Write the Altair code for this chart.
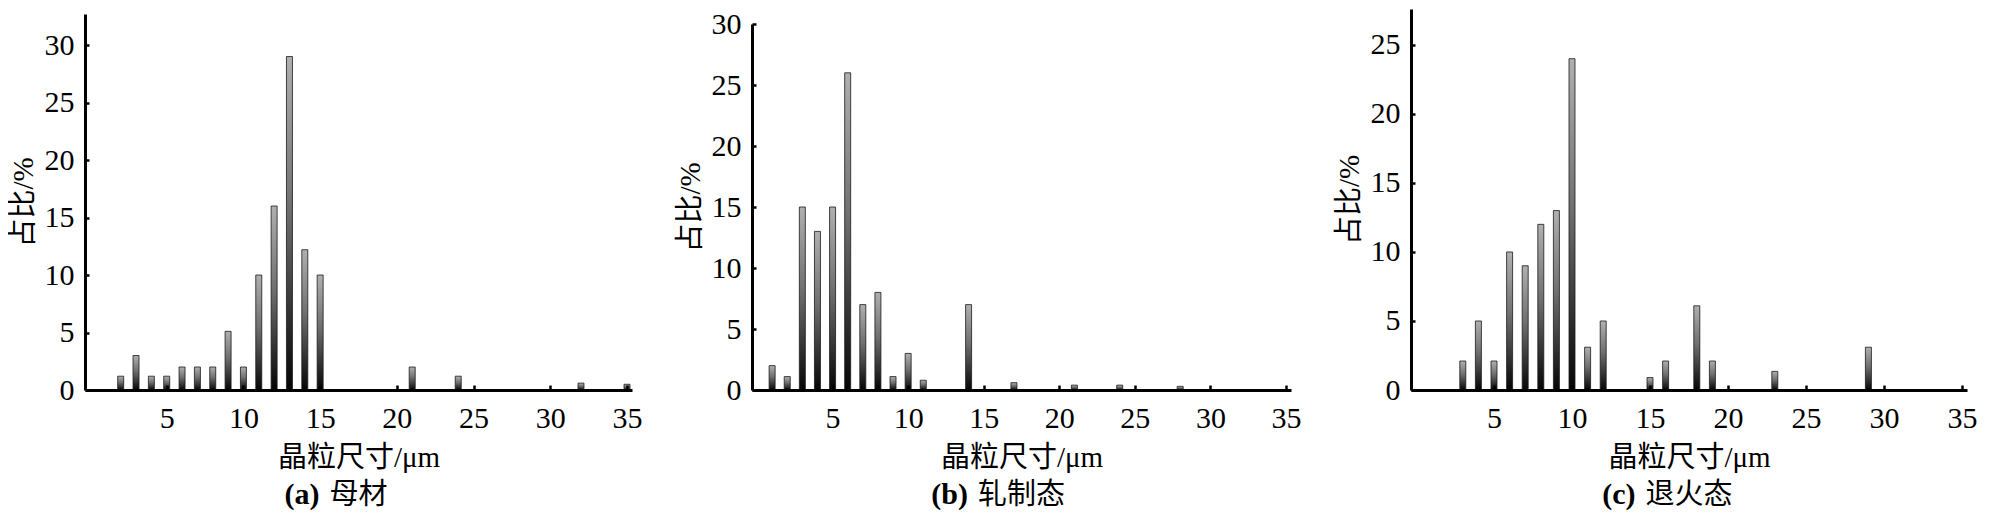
import altair as alt
import pandas as pd

# ---------------- data ----------------
sizes_a = [2, 3, 4, 5, 6, 7, 8, 9, 10, 11, 12, 13, 14, 15, 21, 24, 32, 35]
vals_a = [1.2, 3.0, 1.2, 1.2, 2.0, 2.0, 2.0, 5.1, 2.0, 10.0, 16.0, 29.0, 12.2, 10.0, 2.0, 1.2, 0.6, 0.5]

sizes_b = [1, 2, 3, 4, 5, 6, 7, 8, 9, 10, 11, 14, 17, 21, 24, 28]
vals_b = [2.0, 1.1, 15.0, 13.0, 15.0, 26.0, 7.0, 8.0, 1.1, 3.0, 0.8, 7.0, 0.6, 0.4, 0.4, 0.3]

sizes_c = [3, 4, 5, 6, 7, 8, 9, 10, 11, 12, 15, 16, 18, 19, 23, 29]
vals_c = [2.1, 5.0, 2.1, 10.0, 9.0, 12.0, 13.0, 24.0, 3.1, 5.0, 0.9, 2.1, 6.1, 2.1, 1.35, 3.1]

x_ticks = [5, 10, 15, 20, 25, 30, 35]
y_ticks_a = [0, 5, 10, 15, 20, 25, 30]
y_ticks_b = [0, 5, 10, 15, 20, 25, 30]
y_ticks_c = [0, 5, 10, 15, 20, 25]

tags = ["(a)", "(b)", "(c)"]
names = ["母材", "轧制态", "退火态"]
x_title = "晶粒尺寸/μm"
y_title = "占比/%"

# ---------------- styling ----------------
H = 381
SERIF = "Liberation Serif"
MIXED = "Liberation Serif, Noto Sans CJK SC"
CJK = "Noto Sans CJK SC"
LFS = 30   # tick label font size
TFS = 29   # axis title font size

panels = [
    dict(sizes=sizes_a, vals=vals_a, ymax=32.7, ytop=5, yticks=y_ticks_a, width=547),
    dict(sizes=sizes_b, vals=vals_b, ymax=30.0, ytop=15, yticks=y_ticks_b, width=539),
    dict(sizes=sizes_c, vals=vals_c, ymax=27.6, ytop=0, yticks=y_ticks_c, width=556),
]

grad = alt.Gradient(
    gradient="linear",
    stops=[
        alt.GradientStop(color="#b0b0b0", offset=0),
        alt.GradientStop(color="#707070", offset=0.45),
        alt.GradientStop(color="#050505", offset=1),
    ],
    x1=0, x2=0, y1=0, y2=1,
)


def make_panel(p, tag, name):
    df = pd.DataFrame({"grain": p["sizes"], "pct": p["vals"]})
    W = p["width"]
    xs = alt.Scale(domain=[0, 35], nice=False, zero=False)
    ys = alt.Scale(domain=[0, p["ymax"]], nice=False, range=[H, p["ytop"]])

    bars = alt.Chart(df).mark_bar(
        size=6, color=grad, stroke="#1a1a1a", strokeWidth=0.8
    ).encode(
        x=alt.X("grain:Q", scale=xs, axis=alt.Axis(
            values=x_ticks, title=x_title, ticks=False, grid=False,
            domainColor="black", domainWidth=3, zindex=1,
            labelFont=SERIF, labelFontSize=LFS, labelColor="black", labelPadding=13,
            titleFont=MIXED, titleFontSize=TFS, titleFontWeight="normal",
            titleColor="black", titleY=67, titleBaseline="middle")),
        y=alt.Y("pct:Q", scale=ys, axis=alt.Axis(
            values=p["yticks"], title=y_title, ticks=False, grid=False,
            domainColor="black", domainWidth=3, zindex=1,
            labelFont=SERIF, labelFontSize=LFS, labelColor="black", labelPadding=11,
            titleFont=MIXED, titleFontSize=TFS, titleFontWeight="normal",
            titleColor="black", titleX=-62, titleBaseline="middle")),
    )

    ticks = alt.Chart(df).mark_bar(opacity=0, size=1).encode(
        x=alt.X("grain:Q", scale=xs, axis=alt.Axis(
            orient="top", offset=-H, values=x_ticks, labels=False, domain=False,
            grid=False, ticks=True, tickSize=5, tickWidth=2.5, tickColor="black",
            title="", zindex=1)),
        y=alt.Y("pct:Q", scale=ys, axis=alt.Axis(
            orient="right", offset=-W, values=p["yticks"], labels=False, domain=False,
            grid=False, ticks=True, tickSize=4, tickWidth=2.5, tickColor="black",
            title="", zindex=1)),
    )

    cap_df = pd.DataFrame({"tag": [tag], "name": [name]})
    split = W / 2 - 10 - 14.5 * len(name)
    tag_t = alt.Chart(cap_df).mark_text(
        font=SERIF, fontWeight="bold", fontSize=30, align="right",
        baseline="middle", color="black"
    ).encode(text="tag:N", x=alt.value(split), y=alt.value(H + 105))
    name_t = alt.Chart(cap_df).mark_text(
        font=CJK, fontSize=29, align="left", baseline="middle", color="black"
    ).encode(text="name:N", x=alt.value(split + 10), y=alt.value(H + 105))

    return alt.layer(bars, ticks, tag_t, name_t).resolve_axis(
        x="independent", y="independent"
    ).properties(width=W, height=H)


charts = [make_panel(p, t, n) for p, t, n in zip(panels, tags, names)]

chart = alt.hconcat(*charts, spacing=120, bounds="flush").properties(
    padding=0
).configure_view(stroke="transparent")

chart.save("out.html", embed_options={"renderer": "svg", "actions": False})
